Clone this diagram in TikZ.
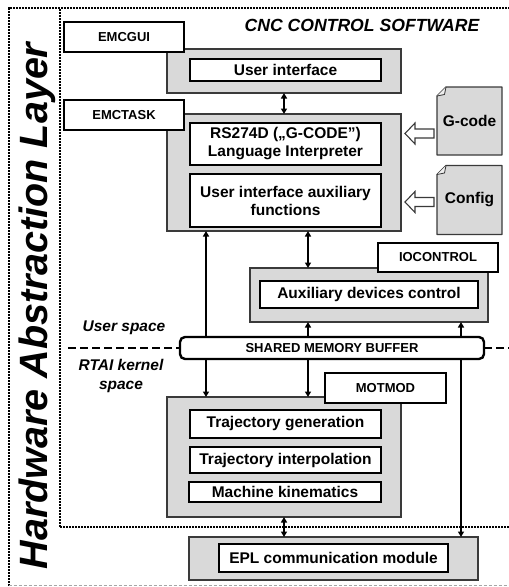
\documentclass[tikz,border=0pt]{standalone}
\usepackage{fontspec}
\setmainfont{Liberation Sans}
\usetikzlibrary{arrows.meta,calc}
\definecolor{boxgrey}{HTML}{D9D9D9}
\definecolor{edgegrey}{HTML}{3A3A3A}
\definecolor{foldgrey}{HTML}{EEEEEE}
\pgfdeclarelayer{background}
\pgfsetlayers{background,main}
\begin{document}
\begin{tikzpicture}[x=1pt,y=-1pt,
  greybox/.style={draw=edgegrey, line width=1.2pt, fill=boxgrey, inner sep=0pt, outer sep=0pt},
  whitebox/.style={draw=black, line width=2.8pt, fill=white, inner sep=0pt, outer sep=0pt, align=center, font=\fontsize{15.5}{18}\selectfont\bfseries},
  labelbox/.style={draw=black, line width=2.4pt, fill=white, inner sep=0pt, outer sep=0pt, font=\fontsize{13}{15}\selectfont\bfseries},
  shmbox/.style={draw=black, line width=2.4pt, fill=white, rounded corners=5pt, inner sep=0pt, outer sep=0pt, font=\fontsize{13}{15}\selectfont\bfseries},
  docnode/.style={inner sep=0pt, outer sep=0pt, font=\fontsize{15.5}{18}\selectfont\bfseries},
  docshape/.style={draw=edgegrey, line width=1.4pt, fill=boxgrey, line join=round},
  hollow/.style={draw=edgegrey, line width=1.1pt, fill=white, line join=miter},
  arr/.style={line width=1.8pt, -{Triangle[length=5.5pt,width=6pt]}},
  dblarr/.style={line width=1.8pt, {Triangle[length=5.5pt,width=6pt]}-{Triangle[length=5.5pt,width=6pt]}},
  dotframe/.style={line width=2pt, dash pattern=on 1.6pt off 1.4pt},
  sepline/.style={line width=2pt, dash pattern=on 8pt off 4pt},
  greydash/.style={line width=0.8pt, draw=black!35, dash pattern=on 3pt off 2pt},
  plaintext/.style={inner sep=0pt, font=\fontsize{15.5}{19}\selectfont\bfseries\itshape, align=center}
]
\useasboundingbox (0,0) rectangle (509,587);

% frames
\draw[dotframe] (8.5,585.5) -- (8.5,8) -- (509,8);
\draw[dotframe] (509,527) -- (59.5,527) -- (59.5,8);
\draw[greydash] (8.5,585.5) -- (509,585.5);

% titles
\node[inner sep=0pt, rotate=90, anchor=base, font=\fontsize{39.5}{42}\selectfont\bfseries\itshape] (hal) at (47,306) {Hardware Abstraction Layer};
\node[inner sep=0pt, font=\fontsize{17.6}{20}\selectfont\bfseries\itshape] (cnctitle) at (362,25) {CNC CONTROL SOFTWARE};
\node[plaintext] (userspace) at (124,328) {User space};
\node[plaintext] (rtai) at (121,376) {RTAI kernel\\space};

% grey modules
\node[greybox, minimum width=234pt, minimum height=44pt] (guiG) at (284,71) {};
\node[greybox, minimum width=234pt, minimum height=117pt] (taskG) at (284,172.5) {};
\node[greybox, minimum width=238pt, minimum height=54pt] (ioG) at (369,295) {};
\node[greybox, minimum width=234pt, minimum height=120pt] (motG) at (284,457) {};
\node[greybox, minimum width=289pt, minimum height=43pt] (eplG) at (333.5,558.5) {};

% inner white boxes
\node[whitebox, minimum width=191pt, minimum height=22pt] (ui) at (285.5,70) {User interface};
\node[whitebox, minimum width=191pt, minimum height=42pt] (rs) at (285.5,144) {RS274D („G-CODE”)\\Language Interpreter};
\node[whitebox, minimum width=191pt, minimum height=53pt] (aux) at (285.5,200.5) {User interface auxiliary\\functions};
\node[whitebox, minimum width=218pt, minimum height=27pt] (adc) at (369,294.5) {Auxiliary devices control};
\node[whitebox, minimum width=191pt, minimum height=28pt] (tg) at (285.5,424) {Trajectory generation};
\node[whitebox, minimum width=191pt, minimum height=26pt] (ti) at (285.5,460) {Trajectory interpolation};
\node[whitebox, minimum width=192pt, minimum height=20pt] (mk) at (285,492) {Machine kinematics};
\node[whitebox, minimum width=229pt, minimum height=28pt] (epl) at (333.5,558) {EPL communication module};

% label boxes
\node[labelbox, minimum width=120pt, minimum height=30pt] (emcgui) at (124,37) {EMCGUI};
\node[labelbox, minimum width=120pt, minimum height=30pt] (emctask) at (124,115) {EMCTASK};
\node[labelbox, minimum width=120pt, minimum height=29pt] (iocontrol) at (438,257.5) {IOCONTROL};
\node[labelbox, minimum width=121pt, minimum height=30pt] (motmod) at (385.5,388) {MOTMOD};

% shared memory
\node[shmbox, minimum width=304pt, minimum height=22pt] (shm) at (332,348) {SHARED MEMORY BUFFER};

% documents
\node[docnode, minimum width=65pt, minimum height=68pt] (gcode) at (469.5,121) {G-code};
\node[docnode, minimum width=65pt, minimum height=69pt] (config) at (469.5,200) {Config};
\begin{pgfonlayer}{background}
\foreach \d in {gcode,config}{
  \draw[docshape] ($(\d.north west)+(9,0)$) -- (\d.north east) -- (\d.south east) -- (\d.south west) -- ($(\d.north west)+(0,9)$) -- cycle;
  \draw[draw=edgegrey, line width=0.8pt, fill=foldgrey] ($(\d.north west)+(9,0)$) -- ($(\d.north west)+(7.5,7.5)$) -- ($(\d.north west)+(0,9)$);
}
\end{pgfonlayer}

% hollow arrows from documents
\begin{scope}[shift={($(gcode.west)+(-3,12.5)$)}]
  \draw[hollow] (0,-4.5) -- (-19,-4.5) -- (-19,-10.5) -- (-29,0) -- (-19,10.5) -- (-19,4.5) -- (0,4.5) -- cycle;
\end{scope}
\begin{scope}[shift={($(config.west)+(-3,2)$)}]
  \draw[hollow] (0,-4.5) -- (-19,-4.5) -- (-19,-10.5) -- (-29,0) -- (-19,10.5) -- (-19,4.5) -- (0,4.5) -- cycle;
\end{scope}

% connector columns
\coordinate (xa) at (206,0);
\coordinate (xb) at (308,0);
\coordinate (xc) at (461,0);
\coordinate (sepL) at (68,348);
\coordinate (sepR) at (509,348);

\draw[dblarr] (guiG.south) -- (taskG.north -| guiG.south);
\draw[arr] (shm.north -| xa) -- (taskG.south -| xa);
\draw[arr] (shm.south -| xa) -- (motG.north -| xa);
\draw[dblarr] (taskG.south -| xb) -- (ioG.north -| xb);
\draw[arr] (shm.north -| xb) -- (ioG.south -| xb);
\draw[arr] (shm.south -| xb) -- (motG.north -| xb);
\draw[arr] (shm.north -| xc) -- (ioG.south -| xc);
\draw[arr] (shm.south -| xc) -- (eplG.north -| xc);
\draw[dblarr] (motG.south) -- (motG.south |- eplG.north);

% user / kernel separator
\draw[sepline] (sepL) -- (shm.west);
\draw[sepline] (shm.east) -- (sepR);
\end{tikzpicture}
\end{document}
